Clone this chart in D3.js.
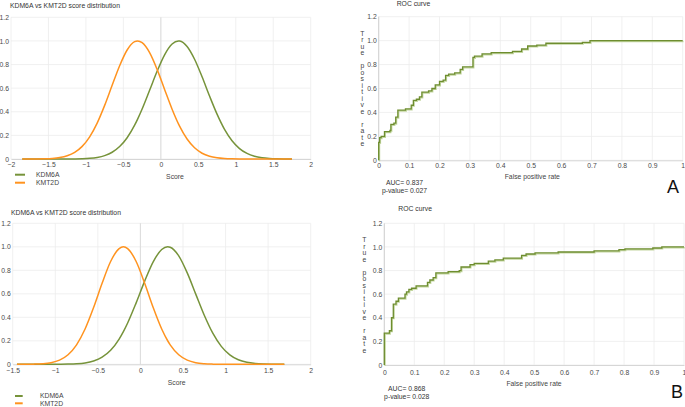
<!DOCTYPE html>
<html><head><meta charset="utf-8">
<script src="https://cdn.jsdelivr.net/npm/d3@7"></script>
<style>
body{margin:0;background:#fff;}
svg{display:block;font-family:"Liberation Sans",Arial,sans-serif;}
</style>
</head><body>
<svg id="c" width="685" height="407"></svg>
<script>
// ---------- data ----------
const seriesNames = ["KDM6A", "KMT2D"];
const seriesColors = ["#76933a", "#ff931f"];

const densityTitle = "KDM6A vs KMT2D score distribution";
const densityXLabel = "Score";
const rocTitle = "ROC curve";
const rocXLabel = "False positive rate";
const rocYLabel = "True positive rate";

const densityXTicksA = [-2, -1.5, -1, -0.5, 0, 0.5, 1, 1.5, 2];
const densityXTicksB = [-1.5, -1, -0.5, 0, 0.5, 1, 1.5, 2];
const densityYTicks = [0, 0.2, 0.4, 0.6, 0.8, 1.0, 1.2];
const rocXTicks = [0, 0.1, 0.2, 0.3, 0.4, 0.5, 0.6, 0.7, 0.8, 0.9, 1];
const rocYTicks = [0, 0.2, 0.4, 0.6, 0.8, 1.0, 1.2];

// panel A – score distribution
const scoreA = [-1.85, -1.75, -1.65, -1.55, -1.45, -1.35, -1.25, -1.15, -1.05, -0.95, -0.85, -0.75, -0.65, -0.55, -0.45, -0.35, -0.31, -0.25, -0.15, -0.05, 0.05, 0.15, 0.235, 0.25, 0.35, 0.45, 0.55, 0.65, 0.75, 0.85, 0.95, 1.05, 1.15, 1.25, 1.35, 1.45, 1.55, 1.65, 1.75];
const kdm6aA = [0, 0, 0, 0, 0, 0.0001, 0.0003, 0.0009, 0.0024, 0.0059, 0.0136, 0.0289, 0.0572, 0.1053, 0.180, 0.2865, 0.338, 0.4235, 0.582, 0.743, 0.8825, 0.974, 1.0, 0.999, 0.953, 0.845, 0.696, 0.533, 0.380, 0.251, 0.1546, 0.0884, 0.047, 0.0232, 0.0107, 0.0046, 0.0018, 0.0007, 0.0002];
const kmt2dA = [0.0001, 0.0002, 0.0007, 0.0019, 0.005, 0.0121, 0.0271, 0.0561, 0.107, 0.188, 0.304, 0.454, 0.624, 0.790, 0.923, 0.9935, 1.0, 0.985, 0.901, 0.759, 0.589, 0.4216, 0.2975, 0.278, 0.169, 0.0946, 0.0489, 0.0232, 0.0102, 0.0041, 0.0015, 0.0005, 0.0002, 0.0001, 0, 0, 0, 0, 0];

// panel B – score distribution
const scoreB = [-1.45, -1.35, -1.25, -1.15, -1.05, -0.95, -0.85, -0.75, -0.65, -0.55, -0.45, -0.35, -0.25, -0.2, -0.15, -0.05, 0.05, 0.15, 0.25, 0.32, 0.35, 0.45, 0.55, 0.65, 0.75, 0.85, 0.95, 1.05, 1.15, 1.25, 1.35, 1.45, 1.55, 1.65, 1.69];
const kdm6aB = [0, 0, 0, 0, 0.0001, 0.0005, 0.0015, 0.0044, 0.0116, 0.0278, 0.0604, 0.1194, 0.2148, 0.278, 0.3514, 0.523, 0.708, 0.872, 0.977, 1.0, 0.996, 0.923, 0.778, 0.597, 0.417, 0.2646, 0.1528, 0.0802, 0.0383, 0.0167, 0.0066, 0.0024, 0.0008, 0.0002, 0.0001];
const kmt2dB = [0.0001, 0.0004, 0.0014, 0.0047, 0.0136, 0.0353, 0.0811, 0.1656, 0.300, 0.4827, 0.6896, 0.8748, 0.9852, 1.0, 0.9852, 0.8748, 0.6896, 0.4827, 0.300, 0.2004, 0.1656, 0.0811, 0.0353, 0.0136, 0.0047, 0.0014, 0.0004, 0.0001, 0, 0, 0, 0, 0, 0, 0];

// ROC A
const fprA = [0, 0, 0.003, 0.008, 0.019, 0.037, 0.04, 0.05, 0.056, 0.063, 0.088, 0.107, 0.114, 0.124, 0.134, 0.142, 0.164, 0.175, 0.186, 0.2, 0.212, 0.22, 0.23, 0.25, 0.268, 0.276, 0.31, 0.315, 0.34, 0.37, 0.44, 0.47, 0.49, 0.52, 0.55, 0.67, 0.695, 1.0];
const tprA = [0, 0.15, 0.19, 0.2, 0.24, 0.25, 0.3, 0.31, 0.36, 0.42, 0.43, 0.46, 0.5, 0.51, 0.53, 0.57, 0.58, 0.6, 0.63, 0.66, 0.67, 0.71, 0.72, 0.73, 0.76, 0.78, 0.86, 0.87, 0.89, 0.9, 0.91, 0.93, 0.955, 0.963, 0.978, 0.986, 1.0, 1.0];
// ROC B
const fprB = [0, 0, 0.017, 0.024, 0.03, 0.039, 0.047, 0.069, 0.074, 0.082, 0.091, 0.106, 0.144, 0.152, 0.163, 0.172, 0.213, 0.25, 0.256, 0.286, 0.3, 0.347, 0.369, 0.397, 0.458, 0.473, 0.503, 0.58, 0.70, 0.783, 0.803, 0.896, 0.926, 1.0];
const tprB = [0, 0.27, 0.29, 0.40, 0.515, 0.54, 0.567, 0.60, 0.62, 0.64, 0.65, 0.67, 0.70, 0.72, 0.74, 0.78, 0.79, 0.80, 0.83, 0.85, 0.86, 0.88, 0.89, 0.905, 0.929, 0.94, 0.949, 0.957, 0.966, 0.977, 0.983, 0.991, 1.0, 1.0];

const aucTexts = [["AUC= 0.837", "p-value= 0.027"], ["AUC= 0.868", "p-value= 0.028"]];
const panelLetters = ["A", "B"];

// ---------- drawing ----------
const svg = d3.select("#c");
const FS = 6.8;
const gridColor = "#ececec";
const tickColor = "#4a4a4a";
const yFmt = d => d === 0 ? "0" : d.toFixed(1);

function grid(g, x, y, xt, yt) {
  g.append("g").selectAll("line").data(yt).join("line")
    .attr("x1", x.range()[0]).attr("x2", x.range()[1])
    .attr("y1", d => y(d)).attr("y2", d => y(d))
    .attr("stroke", gridColor).attr("stroke-width", 0.8);
  g.append("g").selectAll("line").data(xt).join("line")
    .attr("x1", d => x(d)).attr("x2", d => x(d))
    .attr("y1", y.range()[0]).attr("y2", y.range()[1])
    .attr("stroke", gridColor).attr("stroke-width", 0.8);
}

function axes(g, x, y, xt, yt, xOff) {
  const ax = g.append("g").attr("transform", `translate(0,${y.range()[0]})`)
    .call(d3.axisBottom(x).tickValues(xt).tickSize(0).tickPadding(0).tickFormat(d3.format("")));
  ax.select(".domain").attr("stroke", "#d6d6d6");
  ax.selectAll("text").attr("y", xOff).attr("dy", "0.35em").attr("fill", tickColor)
    .attr("font-size", FS).attr("font-family", "Liberation Sans, Arial, sans-serif");
  const ay = g.append("g").attr("transform", `translate(${x.range()[0]},0)`)
    .call(d3.axisLeft(y).tickValues(yt).tickSize(0).tickPadding(2).tickFormat(yFmt));
  ay.select(".domain").remove();
  ay.selectAll("text").attr("fill", tickColor).attr("font-size", FS).attr("font-family", "Liberation Sans, Arial, sans-serif");
}

function density(cfg) {
  const g = svg.append("g");
  const x = d3.scaleLinear().domain(d3.extent(cfg.xt)).range([cfg.x0, cfg.x1]);
  const y = d3.scaleLinear().domain(d3.extent(densityYTicks)).range([cfg.yb, cfg.yt]);
  grid(g, x, y, cfg.xt, densityYTicks);
  g.append("line").attr("x1", x(0)).attr("x2", x(0)).attr("y1", y(0)).attr("y2", y(1.2))
    .attr("stroke", "#dcdcdc").attr("stroke-width", 1);
  axes(g, x, y, cfg.xt, densityYTicks, cfg.xOff);
  const line = d3.line().x(d => x(d[0])).y(d => y(d[1])).curve(d3.curveMonotoneX);
  [cfg.s1, cfg.s2].forEach((s, i) => {
    g.append("path").datum(cfg.xs.map((v, j) => [v, s[j]]))
      .attr("d", line).attr("fill", "none").attr("stroke", seriesColors[i]).attr("stroke-width", 1.5);
  });
  svg.append("text").attr("x", cfg.titleX).attr("y", cfg.titleY).attr("font-size", FS).attr("fill", "#333").text(densityTitle);
  svg.append("text").attr("x", cfg.labX).attr("y", cfg.labY).attr("dy", "0.35em").attr("text-anchor", "middle").attr("font-size", FS).attr("fill", "#444").text(densityXLabel);
  seriesNames.forEach((n, i) => {
    const yy = cfg.legY[i];
    svg.append("line").attr("x1", cfg.legX[0]).attr("x2", cfg.legX[1]).attr("y1", yy).attr("y2", yy)
      .attr("stroke", seriesColors[i]).attr("stroke-width", 2);
    svg.append("text").attr("x", cfg.legTX).attr("y", yy).attr("dy", "0.35em").attr("font-size", FS).attr("fill", "#444").text(n);
  });
}

function roc(cfg) {
  const g = svg.append("g");
  const x = d3.scaleLinear().domain(d3.extent(rocXTicks)).range([cfg.x0, cfg.x1]);
  const y = d3.scaleLinear().domain(d3.extent(rocYTicks)).range([cfg.yb, cfg.yt]);
  grid(g, x, y, rocXTicks, rocYTicks);
  g.append("line").attr("x1", x(0)).attr("x2", x(0)).attr("y1", y(0)).attr("y2", y(1.2))
    .attr("stroke", "#d0d0d0").attr("stroke-width", 1);
  axes(g, x, y, rocXTicks, rocYTicks, cfg.xOff);
  const pts = cfg.fpr.map((v, i) => [v, cfg.tpr[i]]);
  const line = d3.line().x(d => x(d[0])).y(d => y(d[1])).curve(d3.curveStepAfter);
  g.append("path").datum(pts).attr("d", line).attr("transform", "translate(0.8,0.9)")
    .attr("fill", "none").attr("stroke", "#c3d6a0").attr("stroke-width", 1.4);
  g.append("path").datum(pts).attr("d", line)
    .attr("fill", "none").attr("stroke", "#6e8d2f").attr("stroke-width", 1.3);
  svg.append("text").attr("x", cfg.titleX).attr("y", cfg.titleY).attr("font-size", FS).attr("fill", "#333").text(rocTitle);
  svg.append("text").attr("x", cfg.labX).attr("y", cfg.labY).attr("dy", "0.35em").attr("text-anchor", "middle").attr("font-size", FS).attr("fill", "#444").text(rocXLabel);
  rocYLabel.split("").forEach((ch, i) => {
    svg.append("text").attr("x", cfg.ylX).attr("y", cfg.ylY + i * 6.5).attr("dy", "0.35em")
      .attr("text-anchor", "middle").attr("font-size", FS).attr("fill", "#444").text(ch);
  });
  cfg.auc.forEach((t, i) => {
    svg.append("text").attr("x", cfg.aucX).attr("y", cfg.aucY + i * 8.2).attr("dy", "0.35em")
      .attr("text-anchor", "middle").attr("font-size", FS).attr("fill", "#333").text(t);
  });
  svg.append("text").attr("x", cfg.letX).attr("y", cfg.letY).attr("dy", "0.35em").attr("text-anchor", "middle")
    .attr("font-size", 18).attr("fill", "#111").text(cfg.letter);
}

density({xt: densityXTicksA, x0: 11, x1: 310.7, yt: 17.3, yb: 159, xOff: 5.2, xs: scoreA, s1: kdm6aA, s2: kmt2dA,
  titleX: 10, titleY: 8, labX: 175, labY: 176.7, legX: [15, 25], legY: [174.7, 182.7], legTX: 36});
density({xt: densityXTicksB, x0: 12.7, x1: 310.7, yt: 223.3, yb: 364.3, xOff: 6.7, xs: scoreB, s1: kdm6aB, s2: kmt2dB,
  titleX: 11, titleY: 214.6, labX: 176.7, labY: 382.7, legX: [15, 22.7], legY: [396, 403.3], legTX: 40});
roc({x0: 378.7, x1: 682.7, yt: 16.7, yb: 160.3, xOff: 5.2, fpr: fprA, tpr: tprA,
  titleX: 396.7, titleY: 5.6, labX: 532.3, labY: 176.7, ylX: 362.3, ylY: 33.3,
  auc: aucTexts[0], aucX: 404.5, aucY: 182.7, letter: panelLetters[0], letX: 673, letY: 187});
roc({x0: 384.3, x1: 684, yt: 223.3, yb: 365, xOff: 7.5, fpr: fprB, tpr: tprB,
  titleX: 398.3, titleY: 211.4, labX: 534, labY: 383.3, ylX: 364.3, ylY: 240,
  auc: aucTexts[1], aucX: 406.7, aucY: 388.3, letter: panelLetters[1], letX: 677, letY: 392});
</script>
</body></html>
